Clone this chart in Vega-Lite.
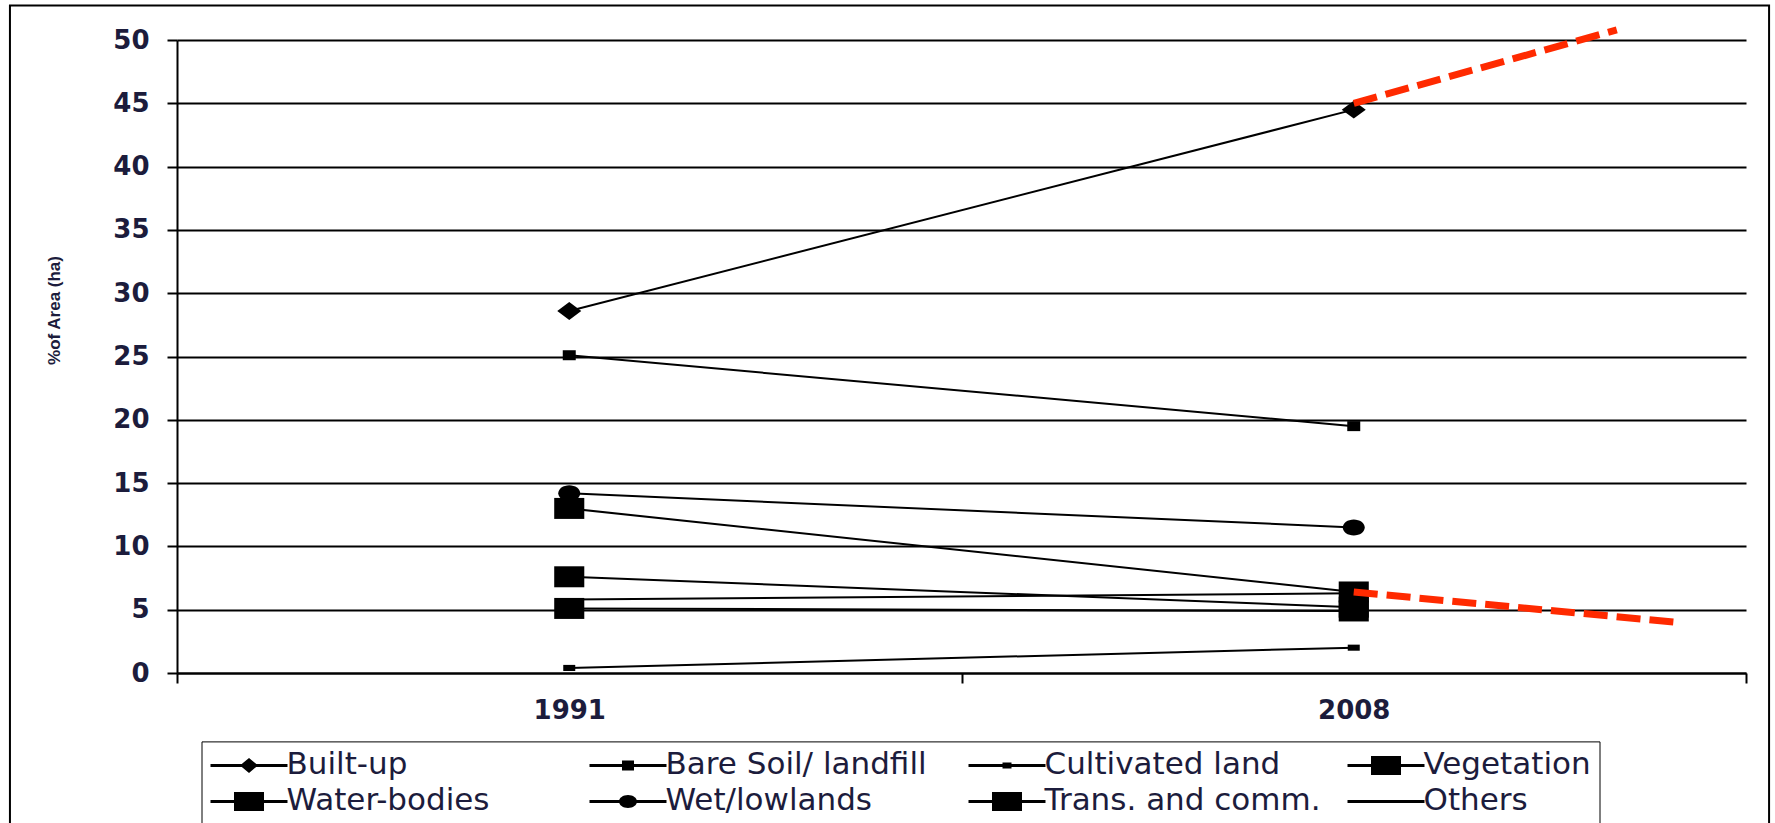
{
  "$schema": "https://vega.github.io/schema/vega-lite/v6.json",
  "width": 1569,
  "height": 633,
  "padding": {"left": 8, "top": 4, "right": 0, "bottom": 0},
  "background": "white",
  "config": {"font": "DejaVu Sans", "view": {"stroke": null}},
  "datasets": {
    "landuse": [
      {"landuse": "Built-up", "year": 1991, "percent": 28.6},
      {"landuse": "Built-up", "year": 2008, "percent": 44.5},
      {"landuse": "Bare Soil/ landfill", "year": 1991, "percent": 25.1},
      {"landuse": "Bare Soil/ landfill", "year": 2008, "percent": 19.5},
      {"landuse": "Cultivated land", "year": 1991, "percent": 0.4},
      {"landuse": "Cultivated land", "year": 2008, "percent": 2.0},
      {"landuse": "Vegetation", "year": 1991, "percent": 13.0},
      {"landuse": "Vegetation", "year": 2008, "percent": 6.4},
      {"landuse": "Water-bodies", "year": 1991, "percent": 7.6},
      {"landuse": "Water-bodies", "year": 2008, "percent": 5.2},
      {"landuse": "Wet/lowlands", "year": 1991, "percent": 14.2},
      {"landuse": "Wet/lowlands", "year": 2008, "percent": 11.5},
      {"landuse": "Trans. and comm.", "year": 1991, "percent": 5.1},
      {"landuse": "Trans. and comm.", "year": 2008, "percent": 4.9},
      {"landuse": "Others", "year": 1991, "percent": 5.8},
      {"landuse": "Others", "year": 2008, "percent": 6.3}
    ],
    "trend": [
      {"trend": "Built-up", "year": 2008, "percent": 45.0},
      {"trend": "Built-up", "year": 2013.7, "percent": 50.8},
      {"trend": "Vegetation", "year": 2008, "percent": 6.4},
      {"trend": "Vegetation", "year": 2015.0, "percent": 4.0}
    ]
  },
  "layer": [
    {
      "data": {"name": "landuse"},
      "mark": {"type": "line", "color": "black", "strokeWidth": 2},
      "encoding": {
        "x": {
          "field": "year",
          "type": "quantitative",
          "scale": {"domain": [1982.5, 2016.5], "nice": false, "zero": false},
          "axis": {
            "title": null,
            "values": [1982.5, 1991, 1999.5, 2008, 2016.5],
            "labelExpr": "datum.value === 1991 || datum.value === 2008 ? format(datum.value, 'd') : ''",
            "grid": false,
            "domainColor": "black",
            "domainWidth": 2,
            "tickColor": "black",
            "tickWidth": 2,
            "tickSize": 10,
            "tickOpacity": {"condition": {"test": "datum.value === 1991 || datum.value === 2008", "value": 0}, "value": 1},
            "labelFont": "DejaVu Sans",
            "labelFontWeight": "bold",
            "labelFontSize": 26,
            "labelColor": "#1c1c3c",
            "labelPadding": 14,
            "labelOverlap": false,
            "labelFlush": false
          }
        },
        "y": {
          "field": "percent",
          "type": "quantitative",
          "scale": {"domain": [0, 50], "nice": false},
          "axis": {
            "title": "%of Area (ha)",
            "values": [0, 5, 10, 15, 20, 25, 30, 35, 40, 45, 50],
            "grid": true,
            "gridColor": "black",
            "gridWidth": 2,
            "domainColor": "black",
            "domainWidth": 2,
            "tickColor": "black",
            "tickWidth": 2,
            "tickSize": 10,
            "labelFont": "DejaVu Sans",
            "labelFontWeight": "bold",
            "labelFontSize": 26,
            "labelColor": "#1c1c3c",
            "labelPadding": 18,
            "titleFont": "Liberation Sans",
            "titleFontSize": 17,
            "titleFontWeight": "bold",
            "titleColor": "#1c1c3c",
            "titleX": -123,
            "titleY": 270,
            "titleAngle": 270,
            "titleAlign": "center",
            "titleBaseline": "middle"
          }
        },
        "detail": {"field": "landuse"}
      }
    },
    {
      "data": {"name": "landuse"},
      "transform": [{"filter": "datum.landuse !== 'Others'"}],
      "mark": {"type": "point", "filled": true, "color": "black", "opacity": 1, "size": 1024, "strokeWidth": 0},
      "encoding": {
        "x": {"field": "year", "type": "quantitative"},
        "y": {"field": "percent", "type": "quantitative"},
        "shape": {
          "field": "landuse",
          "type": "nominal",
          "scale": {
            "domain": ["Built-up", "Bare Soil/ landfill", "Cultivated land", "Vegetation", "Water-bodies", "Wet/lowlands", "Trans. and comm."],
            "range": [
              "M0,-0.56L0.75,0L0,0.56L-0.75,0Z",
              "M-0.406,-0.3125H0.406V0.3125H-0.406Z",
              "M-0.375,-0.19H0.375V0.19H-0.375Z",
              "M-0.94,-0.656H0.94V0.656H-0.94Z",
              "M-0.94,-0.656H0.94V0.656H-0.94Z",
              "M-0.6875,0A0.6875,0.5,0,1,1,0.6875,0A0.6875,0.5,0,1,1,-0.6875,0Z",
              "M-0.94,-0.656H0.94V0.656H-0.94Z"
            ]
          },
          "legend": null
        }
      }
    },
    {
      "data": {"name": "landuse"},
      "mark": {"type": "point", "filled": true, "color": "black", "opacity": 0, "size": 900},
      "encoding": {
        "x": {"field": "year", "type": "quantitative"},
        "y": {"field": "percent", "type": "quantitative"},
        "shape": {
          "field": "landuse",
          "type": "nominal",
          "scale": {
            "domain": ["Built-up", "Bare Soil/ landfill", "Cultivated land", "Vegetation", "Water-bodies", "Wet/lowlands", "Trans. and comm.", "Others"],
            "range": [
              "M-1,-0.1H4.133V0.1H-1Z M1.567,-0.5L2.167,0L1.567,0.5L0.967,0Z",
              "M-1,-0.1H4.133V0.1H-1Z M1.167,-0.333H1.967V0.333H1.167Z",
              "M-1,-0.1H4.133V0.1H-1Z M1.267,-0.2H1.867V0.2H1.267Z",
              "M-1,-0.1H4.133V0.1H-1Z M0.567,-0.633H2.567V0.633H0.567Z",
              "M-1,-0.1H4.133V0.1H-1Z M0.567,-0.633H2.567V0.633H0.567Z",
              "M-1,-0.1H4.133V0.1H-1Z M0.967,0A0.6,0.433,0,1,1,2.167,0A0.6,0.433,0,1,1,0.967,0Z",
              "M-1,-0.1H4.133V0.1H-1Z M0.567,-0.633H2.567V0.633H0.567Z",
              "M-1,-0.1H4.133V0.1H-1Z"
            ]
          },
          "legend": {
            "title": null,
            "orient": "none",
            "legendX": 24.5,
            "legendY": 701.4,
            "columns": 4,
            "direction": "horizontal",
            "gridAlign": "all",
            "columnPadding": 23,
            "rowPadding": 5,
            "padding": 8,
            "strokeColor": "black",
            "symbolSize": 900,
            "labelFont": "DejaVu Sans",
            "labelFontSize": 31,
            "labelColor": "#1c1c3c",
            "labelOffset": 45,
            "labelLimit": 400,
            "labelBaseline": "middle",
            "encode": {
              "symbols": {"update": {"opacity": {"value": 1}, "fill": {"value": "black"}, "fillOpacity": {"value": 1}, "strokeWidth": {"value": 0}}},
              "legend": {"update": {"strokeWidth": {"value": 2}}}
            }
          }
        }
      }
    },
    {
      "data": {"name": "trend"},
      "mark": {"type": "line", "color": "#ff2a00", "strokeWidth": 7, "strokeDash": [24, 9], "strokeCap": "butt"},
      "encoding": {
        "x": {"field": "year", "type": "quantitative"},
        "y": {"field": "percent", "type": "quantitative"},
        "detail": {"field": "trend"}
      }
    },
    {
      "data": {"values": [{}]},
      "mark": {"type": "rect", "fill": "white", "fillOpacity": 0, "stroke": "black", "strokeWidth": 2},
      "encoding": {
        "x": {"datum": 1978.88, "type": "quantitative"},
        "x2": {"datum": 2017.0},
        "y": {"datum": 52.73, "type": "quantitative"},
        "y2": {"datum": -12.3}
      }
    }
  ],
  "resolve": {"scale": {"shape": "independent"}}
}
